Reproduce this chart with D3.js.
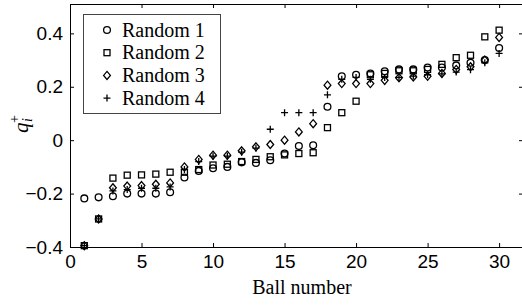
<!DOCTYPE html>
<html><head><meta charset="utf-8">
<script src="https://cdn.jsdelivr.net/npm/d3@7"></script>
<style>body{margin:0;background:#fff}</style>
</head><body>
<svg id="c" width="522" height="306"></svg>
<script>
const balls = d3.range(1, 31);
const seriesNames = ["Random 1", "Random 2", "Random 3", "Random 4"];
const random1 = [-0.218,-0.214,-0.21,-0.2,-0.2,-0.2,-0.195,-0.14,-0.115,-0.105,-0.1,-0.083,-0.085,-0.075,-0.05,-0.022,-0.019,0.125,0.239,0.245,0.25,0.258,0.265,0.265,0.272,0.272,0.28,0.29,0.3,0.345];
const random2 = [-0.395,-0.295,-0.142,-0.131,-0.13,-0.127,-0.12,-0.12,-0.11,-0.093,-0.09,-0.08,-0.072,-0.062,-0.055,-0.05,-0.047,0.047,0.103,0.146,0.245,0.25,0.26,0.26,0.265,0.284,0.309,0.318,0.387,0.412];
const random3 = [-0.395,-0.295,-0.178,-0.172,-0.17,-0.165,-0.16,-0.1,-0.072,-0.056,-0.056,-0.04,-0.025,-0.016,0.0,0.031,0.062,0.206,0.212,0.212,0.212,0.224,0.234,0.237,0.239,0.25,0.265,0.275,0.3,0.385];
const random4 = [-0.395,-0.295,-0.19,-0.185,-0.18,-0.18,-0.175,-0.11,-0.08,-0.06,-0.06,-0.045,-0.03,0.041,0.103,0.103,0.103,0.17,0.228,0.235,0.228,0.235,0.235,0.24,0.245,0.248,0.255,0.264,0.29,0.325];
const xTicks = [0, 5, 10, 15, 20, 25, 30];
const yTicks = [-0.4, -0.2, 0, 0.2, 0.4];
const xLabel = "Ball number";

const SANS = "Liberation Sans";
const SERIF = "Liberation Serif";

const svg = d3.select("#c");
const x = d3.scaleLinear().domain([0, 31.6]).range([70, 522]);
const y = d3.scaleLinear().domain([-0.4, 0.51]).range([247, 4]);

function txt(sel, family, size) {
  return sel.attr("font-family", family).style("font-family", `"${family}"`)
    .attr("font-size", size).style("font-size", size + "px").attr("fill", "#000");
}

// legend and labels first
const lg = svg.append("g");
const ltext = [];
seriesNames.forEach((name, i) => {
  ltext.push(txt(svg.append("text"), SERIF, 20).attr("x", 122).attr("y", 30 + i * 22.7 + 6.5).text(name));
});
txt(svg.append("text"), SERIF, 20).attr("x", 302).attr("y", 294).attr("text-anchor", "middle").text(xLabel);
const yl = svg.append("g").attr("transform", "translate(28,127) rotate(-90)");
txt(yl.append("text"), SERIF, 21).attr("x", -6).attr("y", 0).attr("font-style", "italic").style("font-style", "italic").text("q");
txt(yl.append("text"), SERIF, 14).attr("x", 5).attr("y", 4).attr("font-style", "italic").style("font-style", "italic").text("i");
txt(yl.append("text"), SERIF, 14).attr("x", 4).attr("y", -9).text("+");

function styleAxis(g) {
  g.attr("font-family", null).attr("font-size", null);
  g.selectAll("path.domain").attr("stroke", "#000").attr("stroke-width", 1);
  g.selectAll(".tick line").attr("stroke", "#000").attr("stroke-width", 1);
  g.selectAll("text").each(function() { txt(d3.select(this), SANS, 19); });
}
svg.append("g").attr("transform", "translate(0,247)")
  .call(d3.axisBottom(x).tickValues(xTicks).tickSize(-4).tickSizeOuter(0).tickPadding(8).tickFormat(d3.format("d")))
  .call(styleAxis);
svg.append("g").attr("transform", "translate(0,4)")
  .call(d3.axisTop(x).tickValues(xTicks).tickSize(-4).tickSizeOuter(0).tickFormat(""))
  .call(styleAxis);
svg.append("g").attr("transform", "translate(70,0)")
  .call(d3.axisLeft(y).tickValues(yTicks).tickSize(-4).tickSizeOuter(0).tickPadding(7)
    .tickFormat(d => d === 0 ? "0" : d3.format(".1f")(d)))
  .call(styleAxis);
svg.append("g").attr("transform", "translate(523,0)")
  .call(d3.axisRight(y).tickValues(yTicks).tickSize(-4).tickSizeOuter(0).tickFormat(""))
  .call(styleAxis);

// markers
const symbols = [
  (g, cx, cy) => g.append("circle").attr("cx", cx).attr("cy", cy).attr("r", 3.4),
  (g, cx, cy) => g.append("rect").attr("x", cx - 3).attr("y", cy - 3).attr("width", 6).attr("height", 6),
  (g, cx, cy) => g.append("path").attr("d", `M${cx},${cy-4}L${cx+3.4},${cy}L${cx},${cy+4}L${cx-3.4},${cy}Z`),
  (g, cx, cy) => g.append("path").attr("d", `M${cx-3.5},${cy}H${cx+3.5}M${cx},${cy-3.5}V${cy+3.5}`)
];
const allSeries = [random1, random2, random3, random4];
allSeries.forEach((vals, si) => {
  const g = svg.append("g").attr("fill", "none").attr("stroke", "#000").attr("stroke-width", 1.3);
  vals.forEach((v, i) => symbols[si](g, x(balls[i]), y(v)));
});

// legend box (drawn above data) then legend contents
lg.raise();
lg.append("rect").attr("x", 83.5).attr("y", 14.5).attr("width", 137).attr("height", 99)
  .attr("fill", "#fff").attr("stroke", "#444").attr("stroke-width", 1);
seriesNames.forEach((name, i) => {
  const g = lg.append("g").attr("fill", "none").attr("stroke", "#000").attr("stroke-width", 1.3);
  symbols[i](g, 107, 30 + i * 22.7);
});
ltext.forEach(t => t.raise());
</script>
</body></html>
